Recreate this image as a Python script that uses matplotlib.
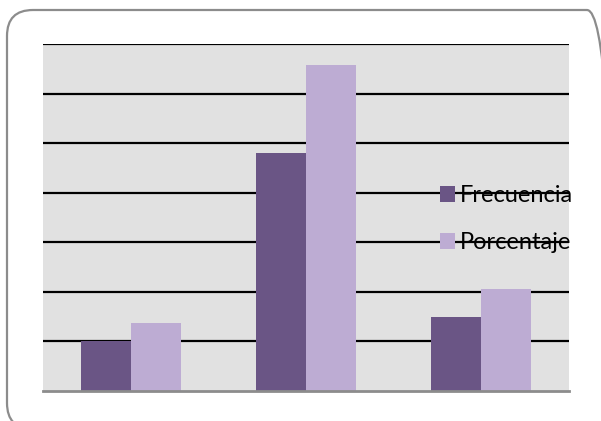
import matplotlib.pyplot as plt
import numpy as np
from matplotlib.patches import FancyBboxPatch

categories = ['A', 'B', 'C']
frecuencia = [10, 48, 15]
porcentaje = [13.7, 65.8, 20.5]
series_names = ['Frecuencia', 'Porcentaje']
grid_values = [10, 20, 30, 40, 50, 60, 70]

dark_purple = '#6A5585'
light_purple = '#BDACD3'

fig = plt.figure(figsize=(6.01, 4.21), dpi=100)
fig.patch.set_facecolor('white')

# rounded outer frame, in pixels
frame = FancyBboxPatch((7, -8), 606, 419, boxstyle='round,pad=0,rounding_size=26',
                       transform=None, facecolor='none', edgecolor='#8C8C8C',
                       linewidth=1.6, zorder=-1)
fig.patches.append(frame)

W, H = 601, 421
ax = fig.add_axes([43 / W, (H - 391) / H, (569 - 43) / W, (391 - 44) / H])
ax.set_facecolor('#E1E1E1')

x = np.arange(len(categories))
width = 50 / 175
ax.bar(x - width / 2, frecuencia, width, color=dark_purple, label=series_names[0], zorder=3)
ax.bar(x + width / 2, porcentaje, width, color=light_purple, label=series_names[1], zorder=3)

ax.set_xlim(-0.5, len(categories) - 0.5)
ax.set_ylim(0, 70)
ax.set_yticks(grid_values)
ax.set_xticks([])
ax.tick_params(left=False, labelleft=False)
ax.yaxis.grid(True, color='black', linewidth=1.6)
ax.set_axisbelow(True)
ax.axhline(0, color='#8C8C8C', linewidth=2, zorder=4, clip_on=False)
for s in ax.spines.values():
    s.set_visible(False)

leg = ax.legend(loc='upper left', bbox_to_anchor=(440 / W, (H - 185) / H),
                bbox_transform=fig.transFigure, frameon=False,
                prop={'family': 'Lato', 'size': 17},
                handlelength=0.64, handleheight=0.64, handletextpad=0.22,
                labelspacing=1.12, borderpad=0, borderaxespad=0)
leg.set_zorder(5)

fig.savefig('out.png', dpi=100)
